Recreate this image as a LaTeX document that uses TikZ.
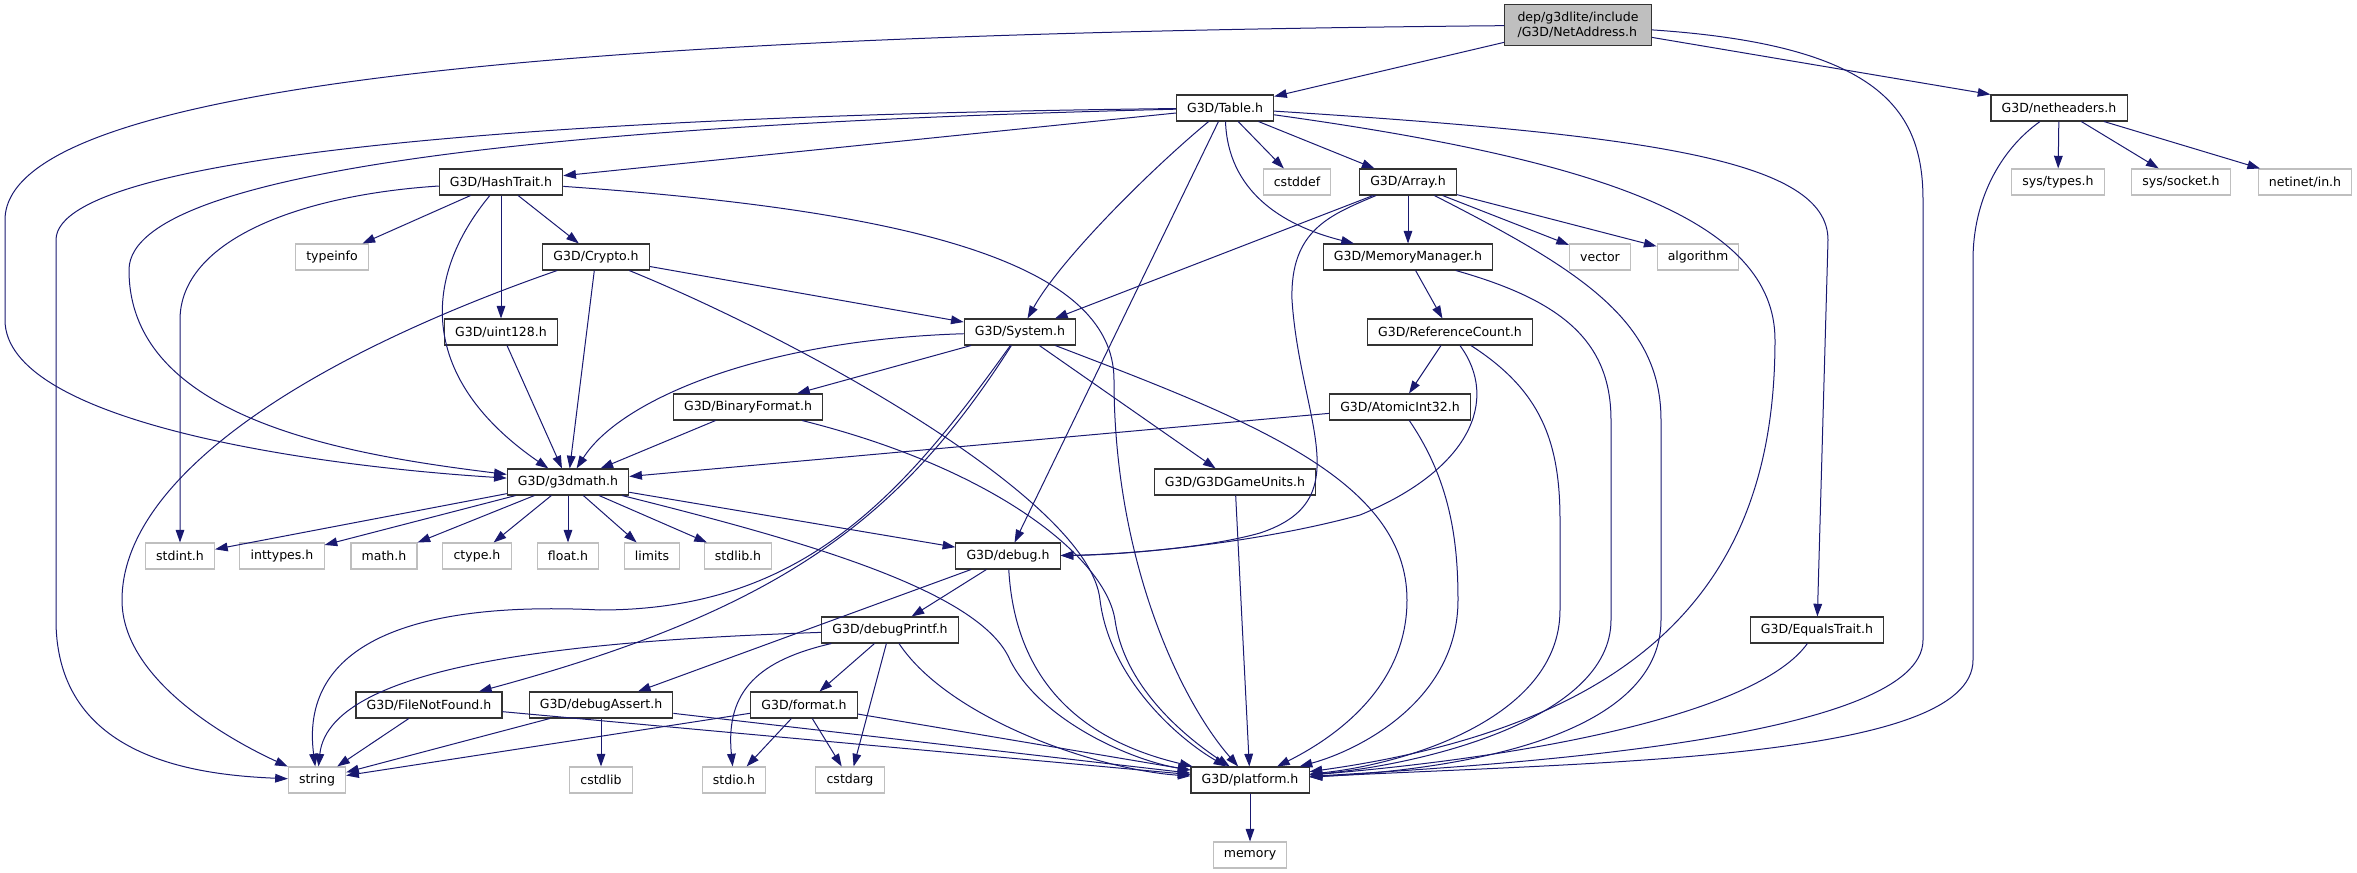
\documentclass[tikz,border=0pt]{standalone}
\usepackage{fontspec}
\setmainfont{DejaVu Sans}
\usetikzlibrary{shapes.geometric, arrows.meta}
\definecolor{incblue}{HTML}{191970}

\begin{document}
\begin{tikzpicture}[x=0.75pt, y=-0.75pt, font=\fontsize{9.4}{11}\selectfont,
	hdr/.style={draw=black!80, line width=0.8pt, fill=white, minimum height=19.5pt, inner xsep=8pt, inner ysep=0pt},
	sys/.style={hdr, draw=black!25},
	inc/.style={draw=incblue, line width=0.75pt, -{Triangle[length=9.5pt, width=6.5pt]}},]
\useasboundingbox (0,0) rectangle (2357,873);

\node[hdr, fill=black!25, align=left, minimum width=110pt, minimum height=30.75pt] (net) at (1578,25) {dep/g3dlite/include\\/G3D/NetAddress.h};
\node[hdr] (table) at (1225,108) {G3D/Table.h};
\node[hdr] (netheaders) at (2059,108) {G3D/netheaders.h};
\node[hdr] (hashtrait) at (501,182) {G3D/HashTrait.h};
\node[sys] (cstddef) at (1297,182) {cstddef};
\node[hdr] (array) at (1408,182) {G3D/Array.h};
\node[sys] (systypes) at (2058,182) {sys/types.h};
\node[sys] (syssocket) at (2181,182) {sys/socket.h};
\node[sys] (netinet) at (2305,182) {netinet/in.h};
\node[sys] (typeinfo) at (332,257) {typeinfo};
\node[hdr] (crypto) at (596,257) {G3D/Crypto.h};
\node[hdr] (memmgr) at (1408,257) {G3D/MemoryManager.h};
\node[sys] (vector) at (1600,257) {vector};
\node[sys] (algorithm) at (1698,257) {algorithm};
\node[hdr] (uint128) at (501,332) {G3D/uint128.h};
\node[hdr] (system) at (1020,332) {G3D/System.h};
\node[hdr] (refcount) at (1450,332) {G3D/ReferenceCount.h};
\node[hdr] (binfmt) at (748,407) {G3D/BinaryFormat.h};
\node[hdr] (atomic) at (1400,407) {G3D/AtomicInt32.h};
\node[hdr] (g3dmath) at (568,482) {G3D/g3dmath.h};
\node[hdr] (gameunits) at (1235,482) {G3D/G3DGameUnits.h};
\node[sys] (stdint) at (180,556) {stdint.h};
\node[sys] (inttypes) at (282,556) {inttypes.h};
\node[sys] (mathh) at (384,556) {math.h};
\node[sys] (ctype) at (477,556) {ctype.h};
\node[sys] (floath) at (568,556) {float.h};
\node[sys] (limits) at (652,556) {limits};
\node[sys] (stdlib) at (738,556) {stdlib.h};
\node[hdr] (debug) at (1008,556) {G3D/debug.h};
\node[hdr] (debugprintf) at (890,630) {G3D/debugPrintf.h};
\node[hdr] (equalstrait) at (1817,630) {G3D/EqualsTrait.h};
\node[hdr] (filenotfound) at (429,705) {G3D/FileNotFound.h};
\node[hdr] (debugassert) at (601,705) {G3D/debugAssert.h};
\node[hdr] (format) at (804,705) {G3D/format.h};
\node[sys] (string) at (317,780) {string};
\node[sys] (cstdlib) at (601,780) {cstdlib};
\node[sys] (stdio) at (734,780) {stdio.h};
\node[sys] (cstdarg) at (850,780) {cstdarg};
\node[hdr] (platform) at (1250,780) {G3D/platform.h};
\node[sys] (memory) at (1250,855) {memory};

% NetAddress.h
\draw[inc] (net) -- (table);
\draw[inc] (net) -- (netheaders.north west);
\draw[inc] (net) .. controls (700,33) and (5,70) .. (5,220) -- (5,320) .. controls (5,420) and (300,465) .. (g3dmath);
\draw[inc] (net) .. controls (1880,45) and (1923,110) .. (1923,200) -- (1923,640) .. controls (1923,740) and (1500,765) .. (platform);

% netheaders.h
\draw[inc] (netheaders) -- (systypes);
\draw[inc] (netheaders) -- (syssocket);
\draw[inc] (netheaders) -- (netinet);
\draw[inc] (netheaders) .. controls (2000,150) and (1973,200) .. (1973,260) -- (1973,660) .. controls (1973,760) and (1600,762) .. (platform);

% Table.h
\draw[inc] (table) -- (hashtrait);
\draw[inc] (table) -- (cstddef);
\draw[inc] (table) -- (array);
\draw[inc] (table) .. controls (1228,190) and (1280,225) .. (memmgr);
\draw[inc] (table) .. controls (1150,170) and (1060,260) .. (system);
\draw[inc] (table) -- (debug);
\draw[inc] (table) .. controls (650,122) and (129,160) .. (129,270) .. controls (129,420) and (350,455) .. (g3dmath);
\draw[inc] (table) .. controls (600,115) and (56,150) .. (56,240) -- (56,620) .. controls (56,760) and (200,775) .. (string);
\draw[inc] (table) .. controls (1600,160) and (1775,220) .. (1775,340) .. controls (1775,550) and (1680,720) .. (platform);
\draw[inc] (table) .. controls (1650,135) and (1828,160) .. (1828,240) -- (equalstrait);

% HashTrait.h
\draw[inc] (hashtrait) .. controls (300,195) and (180,240) .. (180,320) -- (stdint);
\draw[inc] (hashtrait) -- (typeinfo);
\draw[inc] (hashtrait) -- (uint128);
\draw[inc] (hashtrait) -- (crypto);
\draw[inc] (hashtrait) .. controls (420,280) and (420,380) .. (g3dmath);
\draw[inc] (hashtrait) .. controls (900,210) and (1114,260) .. (1114,380) .. controls (1114,560) and (1180,700) .. (platform);

% Crypto.h
\draw[inc] (crypto) .. controls (300,360) and (122,480) .. (122,600) .. controls (122,680) and (230,740) .. (string);
\draw[inc] (crypto) -- (g3dmath);
\draw[inc] (crypto) -- (system);
\draw[inc] (crypto) .. controls (800,340) and (1090,500) .. (1100,600) .. controls (1110,680) and (1180,740) .. (platform);

\draw[inc] (uint128) -- (g3dmath);

% System.h
\draw[inc] (system) .. controls (760,340) and (620,400) .. (g3dmath);
\draw[inc] (system) -- (binfmt);
\draw[inc] (system) .. controls (900,520) and (780,610) .. (filenotfound);
\draw[inc] (system) .. controls (900,500) and (800,610) .. (600,610) .. controls (400,600) and (300,650) .. (string);
\draw[inc] (system) -- (gameunits);
\draw[inc] (system) .. controls (1250,420) and (1407,480) .. (1407,600) .. controls (1407,690) and (1330,740) .. (platform);

% BinaryFormat.h
\draw[inc] (binfmt) -- (g3dmath);
\draw[inc] (binfmt) .. controls (1000,470) and (1106,560) .. (1115,620) .. controls (1125,690) and (1190,740) .. (platform);

% g3dmath.h
\draw[inc] (g3dmath) -- (stdint);
\draw[inc] (g3dmath) -- (inttypes);
\draw[inc] (g3dmath) -- (mathh);
\draw[inc] (g3dmath) -- (ctype);
\draw[inc] (g3dmath) -- (floath);
\draw[inc] (g3dmath) -- (limits);
\draw[inc] (g3dmath) -- (stdlib);
\draw[inc] (g3dmath) -- (debug);
\draw[inc] (g3dmath) .. controls (800,540) and (980,590) .. (1010,660) .. controls (1040,720) and (1130,760) .. (platform);

% debug.h
\draw[inc] (debug) -- (debugassert);
\draw[inc] (debug) -- (debugprintf);
\draw[inc] (debug) .. controls (1015,680) and (1080,740) .. (platform);

% debugPrintf.h
\draw[inc] (debugprintf) .. controls (600,640) and (330,660) .. (string);
\draw[inc] (debugprintf) .. controls (760,660) and (725,690) .. (stdio);
\draw[inc] (debugprintf) -- (format);
\draw[inc] (debugprintf) -- (cstdarg);
\draw[inc] (debugprintf) .. controls (950,720) and (1100,770) .. (platform);

% format.h
\draw[inc] (format) -- (string);
\draw[inc] (format) -- (stdio);
\draw[inc] (format) -- (cstdarg);
\draw[inc] (format) -- (platform);

\draw[inc] (filenotfound) -- (string);
\draw[inc] (filenotfound) -- (platform);
\draw[inc] (debugassert) -- (string);
\draw[inc] (debugassert) -- (cstdlib);
\draw[inc] (debugassert) -- (platform);

% Array.h
\draw[inc] (array) -- (system);
\draw[inc] (array) -- (memmgr);
\draw[inc] (array) -- (vector);
\draw[inc] (array) -- (algorithm);
\draw[inc] (array) .. controls (1330,215) and (1290,230) .. (1292,300) .. controls (1300,420) and (1360,500) .. (1260,533) .. controls (1200,550) and (1100,555) .. (debug);
\draw[inc] (array) .. controls (1580,270) and (1661,320) .. (1661,420) -- (1661,620) .. controls (1661,740) and (1450,770) .. (platform);

% MemoryManager.h, ReferenceCount.h, AtomicInt32.h
\draw[inc] (memmgr) -- (refcount);
\draw[inc] (memmgr) .. controls (1560,300) and (1611,340) .. (1611,420) -- (1611,620) .. controls (1611,720) and (1420,765) .. (platform);
\draw[inc] (refcount) -- (atomic);
\draw[inc] (refcount) .. controls (1500,400) and (1470,470) .. (1360,515) .. controls (1250,545) and (1120,555) .. (debug);
\draw[inc] (refcount) .. controls (1540,390) and (1560,440) .. (1560,520) -- (1560,610) .. controls (1560,720) and (1400,765) .. (platform);
\draw[inc] (atomic) -- (g3dmath);
\draw[inc] (atomic) .. controls (1450,480) and (1458,540) .. (1458,600) .. controls (1458,700) and (1360,750) .. (platform);

\draw[inc] (gameunits) -- (platform);
\draw[inc] (equalstrait) .. controls (1760,710) and (1550,755) .. (platform);
\draw[inc] (platform) -- (memory);
\end{tikzpicture}
\end{document}
